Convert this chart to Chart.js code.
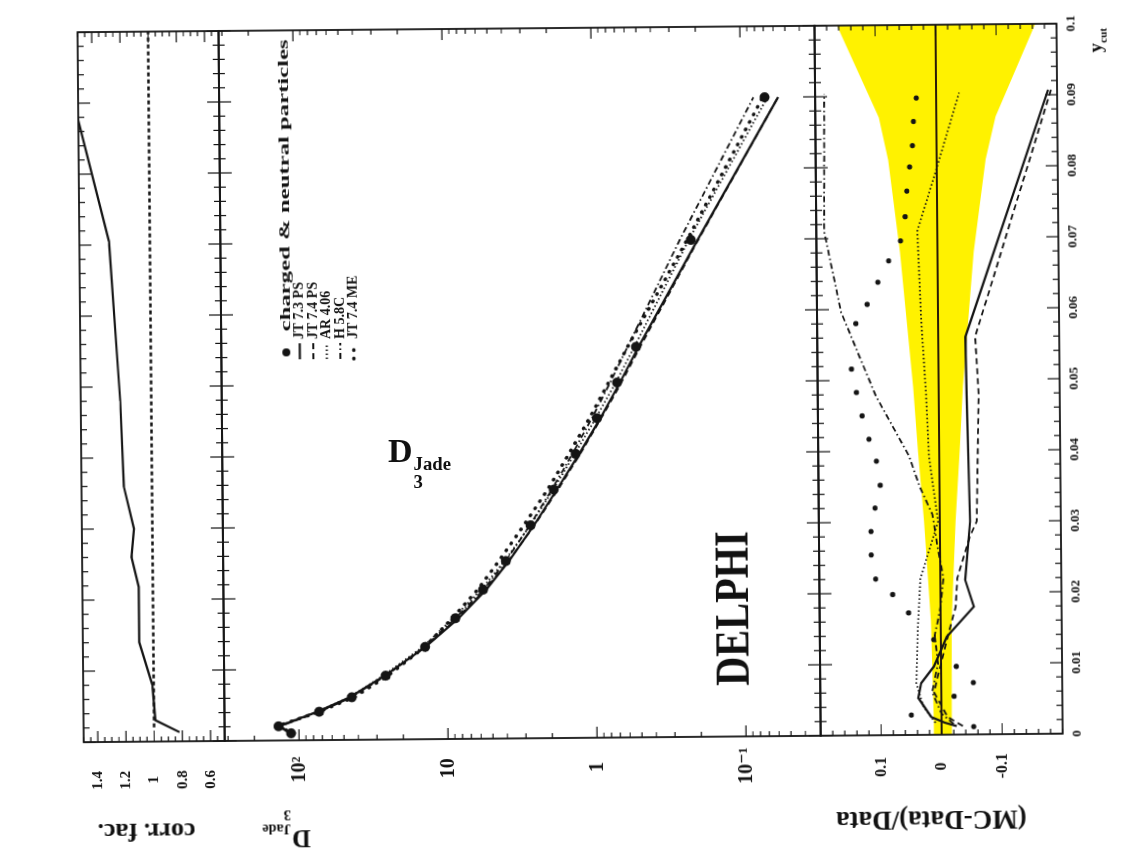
<!DOCTYPE html>
<html>
<head>
<meta charset="utf-8">
<script src="https://cdn.jsdelivr.net/npm/chart.js@4.4.0/dist/chart.umd.min.js"></script>
<style>
  html, body { margin: 0; padding: 0; background: #fff; overflow: hidden; }
  body { width: 1125px; height: 857px; position: relative; font-family: "Liberation Serif", serif; font-weight: bold; color: #111; }
  #fig { position: absolute; left: 134px; top: -134px; width: 857px; height: 1125px; transform: rotate(-90.5deg); transform-origin: 50% 50%; }
  #fig canvas { position: absolute; left: 0; top: 0; }
  .txt { position: absolute; white-space: nowrap; transform: translate(-50%, -50%); }
  .up { transform: translate(-50%, -50%) rotate(-90deg); }
  .stack { display: inline-flex; flex-direction: column; font-size: 0.55em; line-height: 0.95; vertical-align: -0.45em; margin-left: 1px; }
  #title { position: absolute; left: 388px; top: 432px; font-size: 34px; }
</style>
</head>
<body>
<div id="fig">
  <canvas id="corr" width="857" height="1125"></canvas>
  <canvas id="main" width="857" height="1125"></canvas>
  <canvas id="ratio" width="857" height="1125"></canvas>
  <div class="txt up" style="left:29px; top:143px; font-size:26px;">corr. fac.</div>
  <div class="txt up" style="left:29px; top:283px; font-size:26px;">D<span class="stack"><span>Jade</span><span>3</span></span></div>
  <div class="txt up" style="left:34px; top:928px; font-size:27px;">(MC-Data)/Data</div>
  <div class="txt" style="left:247px; top:730px; font-size:48px; transform:translate(-50%, -50%) scaleX(0.84);">DELPHI</div>
  <div class="txt" style="left:812px; top:1100px; font-size:19px;">y<sub style="font-size:0.6em;">cut</sub></div>
</div>
<div id="title">D<span class="stack"><span>Jade</span><span>3</span></span></div>

<script>
// y_cut axis
const cutTickVals = [0, 0.01, 0.02, 0.03, 0.04, 0.05, 0.06, 0.07, 0.08, 0.09, 0.1];
const cutTickText = ['0', '0.01', '0.02', '0.03', '0.04', '0.05', '0.06', '0.07', '0.08', '0.09', '0.1'];
const corrTickVals = [0.6, 0.8, 1, 1.2, 1.4];
const corrTickText = ['0.6', '0.8', '1', '1.2', '1.4'];
const d3TickVals = [0.1, 1, 10, 100];
const d3TickText = ['10⁻¹', '1', '10', '10²'];
const ratioTickVals = [-0.1, 0, 0.1];
const ratioTickText = ['-0.1', '0', '0.1'];

// correction factor panel
const corrCut = [0.0013, 0.003, 0.008, 0.014, 0.0218, 0.026, 0.030, 0.036, 0.048, 0.0705, 0.090];
const corrFac = [0.82, 0.99, 1.01, 1.10, 1.10, 1.15, 1.13, 1.20, 1.22, 1.29, 1.53];
const corrRefCut = [0.002, 0.1];
const corrRef = [1, 1];

// D3 distribution
const cutBins = [0.001, 0.002, 0.004, 0.006, 0.009, 0.013, 0.017, 0.021, 0.025, 0.030, 0.035, 0.040, 0.045, 0.050, 0.055, 0.070, 0.090];
const d3Data = [113, 137, 73, 44, 26, 14.1, 8.8, 5.7, 4.0, 2.72, 1.89, 1.34, 0.96, 0.70, 0.52, 0.22, 0.069];
const d3Jt73 = [112, 137, 75.2, 45.5, 26.4, 14.0, 8.36, 5.44, 3.81, 2.58, 1.80, 1.27, 0.91, 0.67, 0.50, 0.198, 0.056];
const d3Jt74 = [110, 134, 72.6, 44.4, 26.0, 14.0, 8.58, 5.54, 3.84, 2.56, 1.77, 1.25, 0.90, 0.655, 0.488, 0.196, 0.056];
const d3Ar = [114, 139.7, 75.9, 45.8, 27.0, 14.6, 9.12, 5.89, 4.08, 2.73, 1.91, 1.36, 0.98, 0.715, 0.534, 0.227, 0.066];
const d3H = [111, 137, 73.7, 44.7, 26.1, 14.2, 8.8, 5.67, 4.0, 2.75, 1.95, 1.41, 1.04, 0.78, 0.593, 0.261, 0.082];
const d3Me = [108, 141, 73, 42.7, 25.1, 14.2, 9.24, 6.21, 4.46, 3.02, 2.08, 1.49, 1.08, 0.80, 0.593, 0.233, 0.071];

// (MC-Data)/Data panel
const bandCut = [0, 0.002, 0.016, 0.030, 0.040, 0.049, 0.068, 0.081, 0.087, 0.100];
const bandHigh = [0.013, 0.013, 0.016, 0.026, 0.035, 0.042, 0.062, 0.080, 0.095, 0.163];
const bandLow = [-0.017, -0.017, -0.018, -0.026, -0.034, -0.040, -0.060, -0.081, -0.098, -0.165];
const zeroCut = [0, 0.1];
const zeroVal = [0, 0];
const jt73Cut = [0.0012, 0.0017, 0.0025, 0.0052, 0.0073, 0.0096, 0.0138, 0.018, 0.0218, 0.030, 0.048, 0.056, 0.0907];
const jt73Ratio = [-0.025, -0.005, 0.017, 0.038, 0.033, 0.012, -0.010, -0.055, -0.041, -0.050, -0.046, -0.045, -0.185];
const jt74Cut = [0.0012, 0.0025, 0.006, 0.010, 0.014, 0.018, 0.022, 0.028, 0.030, 0.048, 0.056, 0.0907];
const jt74Ratio = [-0.035, -0.010, 0.012, 0.0, -0.012, -0.025, -0.028, -0.050, -0.061, -0.066, -0.061, -0.190];
const arCut = [0.0017, 0.004, 0.0073, 0.0148, 0.022, 0.030, 0.0393, 0.048, 0.0586, 0.071, 0.079, 0.0904];
const arRatio = [0.010, 0.030, 0.041, 0.038, 0.033, 0.003, 0.017, 0.021, 0.028, 0.033, 0.003, -0.038];
const hCut = [0.0015, 0.003, 0.006, 0.010, 0.014, 0.018, 0.022, 0.027, 0.031, 0.035, 0.0393, 0.0478, 0.0596, 0.071, 0.0904];
const hRatio = [-0.020, 0.0, 0.015, 0.005, 0.010, 0.0, -0.005, 0.005, 0.012, 0.033, 0.050, 0.104, 0.160, 0.187, 0.185];
const meCut = [0.0011, 0.0028, 0.0054, 0.0073, 0.0096, 0.0134, 0.0172, 0.0198, 0.022, 0.0254, 0.0287, 0.032, 0.0352, 0.0386, 0.0417, 0.045, 0.0483, 0.0516, 0.058, 0.0607, 0.0638, 0.0668, 0.0696, 0.073, 0.0766, 0.080, 0.083, 0.0864, 0.0897];
const meRatio = [-0.053, 0.050, -0.021, -0.053, -0.025, 0.012, 0.053, 0.079, 0.107, 0.114, 0.114, 0.107, 0.098, 0.104, 0.116, 0.127, 0.136, 0.144, 0.136, 0.117, 0.099, 0.081, 0.061, 0.053, 0.050, 0.045, 0.040, 0.038, 0.033];

const INK = '#141414';
const YELLOW = '#fff200';
const SERIF = '"Liberation Serif", "DejaVu Serif", serif';
Chart.defaults.font.family = SERIF;
Chart.defaults.color = INK;

function pts(xs, ys) {
    return xs.map(function (x, i) { return {x: x, y: ys[i]}; });
}

function line(label, xs, ys, dash, width, extra) {
    return Object.assign({
        label: label,
        data: pts(xs, ys),
        borderColor: INK,
        borderWidth: width,
        borderDash: dash,
        pointRadius: 0,
        tension: 0,
        fill: false
    }, extra || {});
}

// minor ticks every 0.002 on the y_cut axis
var cutMinor = [];
for (var i = 0; i <= 50; i++) cutMinor.push(Math.round(i * 2) / 1000);

var logMinor = [];
[0.01, 0.1, 1, 10, 100].forEach(function (p) {
    for (var k = 2; k <= 9; k++) logMinor.push(k * p);
});

var corrMinor = [];
for (var j = 10; j <= 30; j++) corrMinor.push(j * 0.05);

var ratioMinor = [];
for (var m = -10; m <= 10; m++) ratioMinor.push(m * 0.02);

// box round each panel with inward ticks, as in the paper
const frameTicks = {
    id: 'frameTicks',
    afterDatasetsDraw: function (chart, args, opts) {
        var ctx = chart.ctx, a = chart.chartArea;
        var xs = chart.scales.x, ys = chart.scales.y;
        ctx.save();
        ctx.strokeStyle = INK;
        ctx.lineWidth = 1.2;
        ctx.beginPath();
        function seg(x1, y1, x2, y2) { ctx.moveTo(x1, y1); ctx.lineTo(x2, y2); }
        cutMinor.forEach(function (v, i) {
            var p = xs.getPixelForValue(v);
            var len = i % 5 === 0 ? 12 : 6;
            seg(p, a.top, p, a.top + len);
            seg(p, a.bottom, p, a.bottom - len);
        });
        opts.minor.forEach(function (v) {
            if (v < ys.min || v > ys.max) return;
            var p = ys.getPixelForValue(v);
            seg(a.left, p, a.left + 5, p);
            seg(a.right, p, a.right - 5, p);
        });
        opts.major.forEach(function (v) {
            var p = ys.getPixelForValue(v);
            seg(a.left, p, a.left + 11, p);
            seg(a.right, p, a.right - 11, p);
        });
        ctx.stroke();
        ctx.lineWidth = 1.8;
        ctx.strokeRect(a.left, a.top, a.right - a.left, a.bottom - a.top);
        ctx.restore();
    }
};

// legend in the upper corner of the D3 panel
const d3Legend = {
    id: 'd3Legend',
    afterDatasetsDraw: function (chart) {
        var ctx = chart.ctx;
        chart.data.datasets.forEach(function (ds, i) {
            var y = 287 + i * 13.5;
            ctx.save();
            ctx.strokeStyle = INK;
            ctx.fillStyle = INK;
            if (ds.showLine === false) {
                ctx.beginPath();
                ctx.arc(507, y, 4, 0, Math.PI * 2);
                ctx.fill();
            } else {
                ctx.setLineDash(ds.borderDash || []);
                ctx.lineWidth = ds.borderWidth;
                ctx.lineCap = ds.borderCapStyle || 'butt';
                ctx.beginPath();
                ctx.moveTo(500, y);
                ctx.lineTo(516, y);
                ctx.stroke();
            }
            ctx.font = 'bold 14px ' + SERIF;
            ctx.textBaseline = 'middle';
            if (i === 0) {
                var w = ctx.measureText(ds.label).width;
                ctx.translate(528, y);
                ctx.scale(292 / w, 1);
                ctx.fillText(ds.label, 0, 0);
            } else {
                ctx.fillText(ds.label, 520, y);
            }
            ctx.restore();
        });
    }
};

function xScale(show) {
    return {
        type: 'linear', min: 0, max: 0.1, display: show,
        grid: {display: false, drawTicks: false}, border: {display: false},
        afterBuildTicks: function (s) { s.ticks = cutTickVals.map(function (v) { return {value: v}; }); },
        afterFit: function (s) { s.height = show ? 40 : 0; },
        ticks: {
            autoSkip: false, maxRotation: 0, minRotation: 0, padding: 7,
            font: {size: 13, weight: 'bold'},
            callback: function (v, i) { return cutTickText[i]; }
        }
    };
}

function yScale(base, vals, text, size, pad) {
    return Object.assign({
        grid: {display: false, drawTicks: false}, border: {display: false},
        afterBuildTicks: function (s) { s.ticks = vals.map(function (v) { return {value: v}; }); },
        afterFit: function (s) { s.width = 80; },
        ticks: {
            autoSkip: false, crossAlign: 'center', padding: pad,
            font: {size: size, weight: 'bold'},
            callback: function (v, i) { return text[i]; }
        }
    }, base);
}

function opts(pad, y, frame, showX) {
    return {
        responsive: false, animation: false, events: [],
        layout: {padding: pad},
        scales: {x: xScale(showX), y: y},
        plugins: {legend: {display: false}, tooltip: {enabled: false}, frameTicks: frame}
    };
}

new Chart(document.getElementById('corr'), {
    type: 'line',
    data: {datasets: [
        line('corr. fac.', corrCut, corrFac, [], 2.2),
        line('1', corrRefCut, corrRef, [4, 3], 2.6)
    ]},
    options: opts({left: 39, right: 28, top: 81, bottom: 903},
        yScale({type: 'linear', min: 0.5, max: 1.5}, corrTickVals, corrTickText, 15, 29),
        {major: corrTickVals, minor: corrMinor}, false),
    plugins: [frameTicks]
});

new Chart(document.getElementById('main'), {
    type: 'line',
    data: {datasets: [
        {label: 'charged & neutral particles', data: pts(cutBins, d3Data), showLine: false,
         pointRadius: 5, pointBackgroundColor: INK, pointBorderWidth: 0, borderColor: INK},
        line('JT 7.3 PS', cutBins, d3Jt73, [], 2.2),
        line('JT 7.4 PS', cutBins, d3Jt74, [6, 4], 1.8),
        line('AR 4.06', cutBins, d3Ar, [1.5, 2.5], 1.8),
        line('H 5.8C', cutBins, d3H, [6, 3, 1.5, 3], 1.8),
        line('JT 7.4 ME', cutBins, d3Me, [0.5, 8], 3.5, {borderCapStyle: 'round'})
    ]},
    options: opts({left: 39, right: 28, top: 222, bottom: 307},
        yScale({type: 'logarithmic', min: 0.0316, max: 316}, d3TickVals, d3TickText, 20, 11),
        {major: d3TickVals, minor: logMinor}, false),
    plugins: [frameTicks, d3Legend]
});

new Chart(document.getElementById('ratio'), {
    type: 'line',
    data: {datasets: [
        line('band+', bandCut, bandHigh, [], 0, {fill: '+1', backgroundColor: YELLOW, order: 3}),
        line('band-', bandCut, bandLow, [], 0, {order: 3}),
        line('0', zeroCut, zeroVal, [], 1.8, {borderColor: '#2a1c08', order: 2}),
        line('JT 7.3 PS', jt73Cut, jt73Ratio, [], 2.2, {order: 1}),
        line('JT 7.4 PS', jt74Cut, jt74Ratio, [6, 4], 1.8, {order: 1}),
        line('AR 4.06', arCut, arRatio, [1.5, 2.5], 1.8, {order: 1}),
        line('H 5.8C', hCut, hRatio, [6, 3, 1.5, 3], 1.8, {order: 1}),
        {label: 'JT 7.4 ME', data: pts(meCut, meRatio), showLine: false, pointRadius: 2.6,
         pointBackgroundColor: INK, pointBorderWidth: 0, borderColor: INK, order: 0}
    ]},
    options: opts({left: 39, right: 28, top: 818, bottom: 25},
        yScale({type: 'linear', min: -0.2, max: 0.2}, ratioTickVals, ratioTickText, 16, 19),
        {major: ratioTickVals, minor: ratioMinor}, true),
    plugins: [frameTicks]
});
</script>
</body>
</html>
